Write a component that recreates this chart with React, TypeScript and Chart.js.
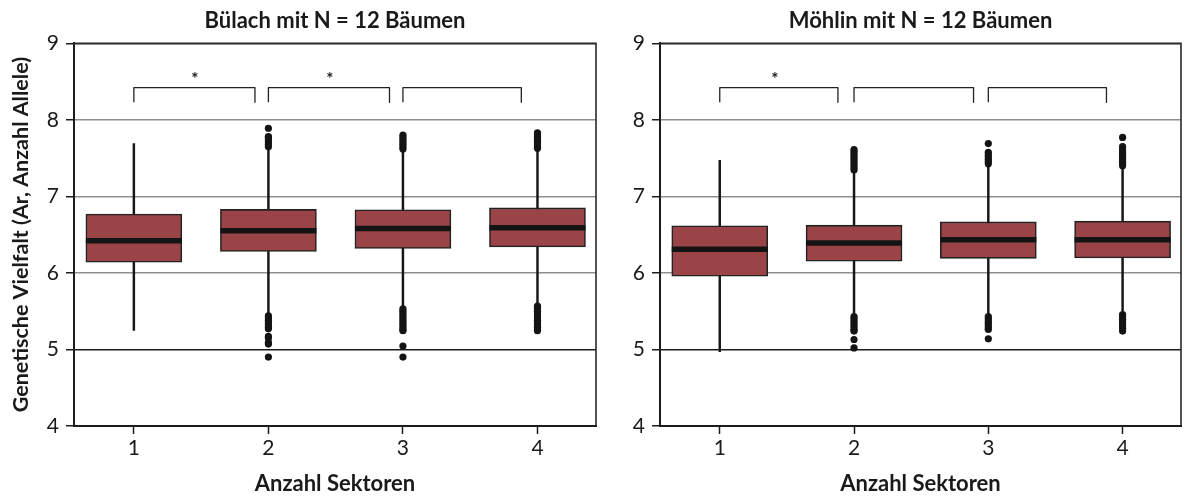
import React, { useEffect, useRef } from "react";
import { Chart, registerables } from "chart.js";

Chart.register(...registerables);

// ---------- shared axis data ----------
const sectors = [1, 2, 3, 4];
const yTickValues = [4, 5, 6, 7, 8, 9];
const xTitle = "Anzahl Sektoren";
const yTitle = "Genetische Vielfalt (Ar, Anzahl Allele)";

// ---------- Bülach ----------
const buelachTitle = "Bülach mit N = 12 Bäumen";
const buelachQ1 = [6.14, 6.28, 6.32, 6.34];
const buelachMedian = [6.42, 6.55, 6.58, 6.59];
const buelachQ3 = [6.77, 6.83, 6.825, 6.85];
const buelachWhiskerLow = [5.25, 5.47, 5.55, 5.58];
const buelachWhiskerHigh = [7.69, 7.62, 7.6, 7.61];
const buelachOutliers = [
  [],
  [7.65, 7.68, 7.71, 7.74, 7.77, 7.78, 7.89, 5.44, 5.41, 5.38, 5.35, 5.32, 5.29, 5.27, 5.17, 5.15, 5.09, 5.07, 4.9],
  [7.62, 7.65, 7.68, 7.71, 7.74, 7.77, 7.8, 5.53, 5.5, 5.47, 5.44, 5.41, 5.38, 5.35, 5.32, 5.29, 5.26, 5.245, 5.045, 4.9],
  [7.63, 7.66, 7.69, 7.72, 7.75, 7.78, 7.81, 7.83, 5.565, 5.535, 5.5, 5.47, 5.44, 5.41, 5.38, 5.35, 5.32, 5.29, 5.26, 5.245],
];
const buelachBracketFrom = [1, 2, 3];
const buelachBracketTo = [1.9, 2.9, 3.88];
const buelachStars = [1.453, 2.456];

// ---------- Möhlin ----------
const moehlinTitle = "Möhlin mit N = 12 Bäumen";
const moehlinQ1 = [5.956, 6.153, 6.19, 6.196];
const moehlinMedian = [6.31, 6.39, 6.435, 6.435];
const moehlinQ3 = [6.615, 6.624, 6.667, 6.676];
const moehlinWhiskerLow = [4.97, 5.47, 5.47, 5.5];
const moehlinWhiskerHigh = [7.47, 7.32, 7.4, 7.38];
const moehlinOutliers = [
  [],
  [7.345, 7.375, 7.405, 7.435, 7.465, 7.495, 7.525, 7.555, 7.585, 7.61, 5.43, 5.4, 5.37, 5.34, 5.31, 5.28, 5.25, 5.24, 5.13, 5.02],
  [7.425, 7.455, 7.485, 7.515, 7.545, 7.575, 7.69, 5.43, 5.4, 5.37, 5.34, 5.31, 5.28, 5.262, 5.14],
  [7.4, 7.43, 7.46, 7.49, 7.52, 7.55, 7.58, 7.61, 7.65, 7.77, 5.455, 5.425, 5.395, 5.365, 5.335, 5.305, 5.275, 5.24],
];
const moehlinBracketFrom = [1, 2, 3];
const moehlinBracketTo = [1.88, 2.89, 3.88];
const moehlinStars = [1.41];

const bracketTop = 8.42;
const bracketFoot = 8.23;
const starLevel = 8.57;

const FONT = "Lato, 'Open Sans', sans-serif";
const TEXT = "#1a1a1a";
const BOX_FILL = "#9a4447";
const DARK = "#1c1c1c";

type PanelProps = {
  title: string;
  q1: number[];
  med: number[];
  q3: number[];
  lo: number[];
  hi: number[];
  outliers: number[][];
  bFrom: number[];
  bTo: number[];
  stars: number[];
  showYTitle: boolean;
  width: number;
  left: number;
  yAxisWidth: number;
  padRight: number;
};

function Panel(p: PanelProps) {
  const ref = useRef<HTMLCanvasElement | null>(null);

  useEffect(() => {
    if (!ref.current) return;
    const bracketPts: any[] = [];
    p.bFrom.forEach((a, i) => {
      const b = p.bTo[i];
      bracketPts.push({ x: a, y: bracketFoot }, { x: a, y: bracketTop }, { x: b, y: bracketTop }, { x: b, y: bracketFoot }, { x: b, y: null });
    });

    const framePlugin = {
      id: "frame",
      beforeDatasetsDraw(chart: any) {
        const { ctx, chartArea: a } = chart;
        ctx.save();
        ctx.strokeStyle = "#2a2a2a";
        ctx.lineWidth = 1.6;
        ctx.beginPath();
        ctx.moveTo(a.left, a.top);
        ctx.lineTo(a.right, a.top);
        ctx.lineTo(a.right, a.bottom);
        ctx.stroke();
        ctx.restore();
      },
    };
    const starPlugin = {
      id: "stars",
      afterDatasetsDraw(chart: any) {
        const { ctx } = chart;
        const xs = chart.scales.x;
        const ys = chart.scales.y;
        ctx.save();
        ctx.fillStyle = TEXT;
        ctx.font = `bold 17px ${FONT}`;
        ctx.textAlign = "center";
        ctx.textBaseline = "middle";
        p.stars.forEach((sx) => {
          ctx.fillText("*", xs.getPixelForValue(sx), ys.getPixelForValue(starLevel) + 3);
        });
        ctx.restore();
      },
    };

    const chart = new Chart(ref.current, {
      type: "bar",
      data: {
        datasets: [
          {
            type: "scatter",
            label: "Median",
            data: sectors.map((x, i) => ({ x, y: p.med[i] })),
            pointStyle: "line",
            pointRadius: 48,
            pointHoverRadius: 48,
            borderColor: "#141414",
            borderWidth: 5.5,
            order: 0,
          } as any,
          {
            type: "scatter",
            label: "Ausreisser",
            data: p.outliers.flatMap((arr, i) => arr.map((y) => ({ x: sectors[i], y }))),
            pointRadius: 3.6,
            pointBackgroundColor: "#141414",
            pointBorderWidth: 0,
            order: 1,
          } as any,
          {
            type: "bar",
            label: "Box",
            data: sectors.map((x, i) => ({ x, y: [p.q1[i], p.q3[i]] })),
            backgroundColor: BOX_FILL,
            borderColor: "#222",
            borderWidth: 1.6,
            borderSkipped: false,
            barThickness: 96,
            grouped: false,
            order: 2,
          } as any,
          {
            type: "bar",
            label: "Whisker",
            data: sectors.map((x, i) => ({ x, y: [p.lo[i], p.hi[i]] })),
            backgroundColor: "#161616",
            barThickness: 1.8,
            grouped: false,
            order: 3,
          } as any,
          {
            type: "line",
            label: "Vergleich",
            data: bracketPts,
            borderColor: "#222",
            borderWidth: 1.3,
            borderJoinStyle: "round",
            pointRadius: 0,
            spanGaps: false,
            fill: false,
            order: 4,
          } as any,
        ],
      },
      options: {
        animation: false,
        responsive: false,
        layout: { autoPadding: false, padding: { left: 0, right: p.padRight, top: 0, bottom: 0 } },
        plugins: {
          legend: { display: false },
          tooltip: { enabled: false },
          title: {
            display: true,
            text: p.title,
            color: TEXT,
            font: { family: FONT, size: 22, weight: "bold" },
            padding: { top: 8, bottom: 8.9 },
            fullSize: false,
          },
        },
        scales: {
          x: {
            type: "linear",
            min: 0.555,
            max: 4.435,
            offset: false,
            afterBuildTicks: (s: any) => {
              s.ticks = sectors.map((v) => ({ value: v }));
            },
            afterFit: (s: any) => {
              s.height = 71;
            },
            ticks: { color: TEXT, font: { family: FONT, size: 21 }, padding: 2, autoSkip: false, maxRotation: 0 },
            grid: { drawOnChartArea: false, offset: false, tickLength: 8, tickColor: DARK, tickWidth: 1.5 },
            border: { color: DARK, width: 2 },
            title: {
              display: true,
              text: xTitle,
              color: TEXT,
              font: { family: FONT, size: 22, weight: "bold" },
              padding: { top: 0, bottom: 0 },
            },
          },
          y: {
            type: "linear",
            min: 4,
            max: 9,
            afterBuildTicks: (s: any) => {
              s.ticks = yTickValues.map((v) => ({ value: v }));
            },
            afterFit: (s: any) => {
              s.width = p.yAxisWidth;
            },
            ticks: { color: TEXT, font: { family: FONT, size: 21 }, padding: 7 },
            grid: {
              color: (c: any) => (c.tick && (c.tick.value === 5 || c.tick.value === 9) ? DARK : "#8f8f8f"),
              lineWidth: 1.5,
              tickLength: 8,
              tickColor: DARK,
              tickWidth: 1.5,
            },
            border: { color: DARK, width: 2 },
            title: {
              display: p.showYTitle,
              text: yTitle,
              color: TEXT,
              font: { family: FONT, size: 21.5, weight: "bold" },
              padding: { top: 8, bottom: 0 },
            },
          },
        },
      } as any,
      plugins: [framePlugin, starPlugin],
    });
    return () => chart.destroy();
  }, []);

  return (
    <canvas
      ref={ref}
      width={p.width}
      height={497}
      style={{ position: "absolute", left: p.left, top: 0, width: p.width, height: 497 }}
    />
  );
}

export default function App() {
  return (
    <div style={{ position: "absolute", left: 0, top: 0, width: 1186, height: 497, background: "#fff" }}>
      <Panel
        title={buelachTitle}
        q1={buelachQ1}
        med={buelachMedian}
        q3={buelachQ3}
        lo={buelachWhiskerLow}
        hi={buelachWhiskerHigh}
        outliers={buelachOutliers}
        bFrom={buelachBracketFrom}
        bTo={buelachBracketTo}
        stars={buelachStars}
        showYTitle={true}
        width={600}
        left={0}
        yAxisWidth={74}
        padRight={4}
      />
      <Panel
        title={moehlinTitle}
        q1={moehlinQ1}
        med={moehlinMedian}
        q3={moehlinQ3}
        lo={moehlinWhiskerLow}
        hi={moehlinWhiskerHigh}
        outliers={moehlinOutliers}
        bFrom={moehlinBracketFrom}
        bTo={moehlinBracketTo}
        stars={moehlinStars}
        showYTitle={false}
        width={586}
        left={600}
        yAxisWidth={60}
        padRight={5}
      />
    </div>
  );
}
